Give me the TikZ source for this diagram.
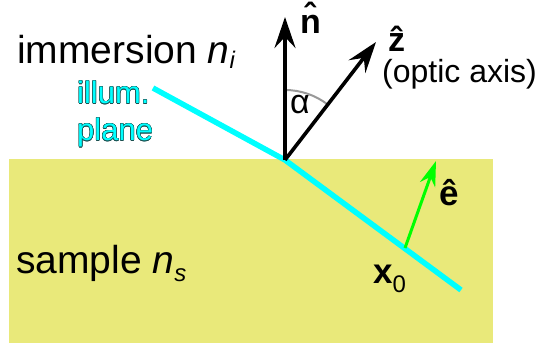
\documentclass[tikz,border=0pt]{standalone}
\usepackage{fontspec}
\setmainfont{Liberation Sans}
\usepackage{contour}
\usetikzlibrary{arrows.meta, positioning}
\definecolor{sampleyellow}{HTML}{E9E97A}
\definecolor{beam}{HTML}{00FFFF}
\definecolor{beamedge}{HTML}{1A5050}
\definecolor{edir}{HTML}{00FF00}
\definecolor{arcgray}{HTML}{999999}
\contourlength{0.45pt}
\newcommand{\lowsub}[2]{\raisebox{-#1}{\fontsize{24}{24}\selectfont #2}}

\begin{document}
\begin{tikzpicture}[x=1pt, y=-1pt, font=\fontsize{32}{37}\selectfont,
      lbl/.style={inner sep=0pt, anchor=base west},
      big/.style={lbl, font=\fontsize{39}{44}\selectfont},
      vec/.style={line width=3.6pt, -{Stealth[length=31pt, width=21pt, inset=11pt]}},
      evec/.style={draw=edir, line width=3pt, -{Stealth[length=25pt, width=16pt, inset=8pt]}},
      beamline/.style={draw=beam, line width=5.5pt}]
    \useasboundingbox (0,0) rectangle (540,348);
    \fill[sampleyellow] (9,159) rectangle (493,343);
    % points
    \coordinate (o) at (285,160);
    \coordinate (pin) at (153,88);
    \coordinate (pout) at (461,290);
    \coordinate (ntip) at (285,17);
    \coordinate (ztip) at (376,42);
    \coordinate (x0) at (405,248);
    \coordinate (etip) at (436,161);
    % illumination plane, refracted at the interface
    \draw[beamline] (pin) -- (o) -- (pout);
    \draw[arcgray, line width=2pt] (o) ++(0,-70) arc[start angle=-90, end angle=-52.4, radius=70];
    \draw[vec] (o) -- (ntip);
    \draw[vec] (o) -- (ztip);
    \draw[evec] (x0) -- (etip);
    % labels
    \node[big] (imm) at (17,63) {immersion \textit{n}\lowsub{5pt}{\textit{i}}};
    \node[big] (smp) at (16,273) {sample \textit{n}\lowsub{8pt}{\textit{s}}};
    \node[inner sep=0pt, anchor=north west, align=left, text=beam,
          font=\fontsize{31}{37}\selectfont] (ill) at (77,81)
          {\contour{beamedge}{illum.}\\\contour{beamedge}{plane}};
    \node[lbl, font=\fontsize{34}{40}\bfseries] (nlab) at (300,33) {\^n};
    \node[lbl, font=\fontsize{34}{40}\bfseries] (zlab) at (388,51) {\^z};
    \node[lbl] (oax) at (382,82) {(optic axis)};
    \node[lbl, font=\fontsize{34}{40}\selectfont] (alab) at (290,113) {α};
    \node[lbl, font=\fontsize{35}{40}\bfseries] (elab) at (439,205) {ê};
    \node[lbl] (xlab) at (373,283) {\fontsize{35}{40}\bfseries x\lowsub{9pt}{\mdseries 0}};
  \end{tikzpicture}
\end{document}
